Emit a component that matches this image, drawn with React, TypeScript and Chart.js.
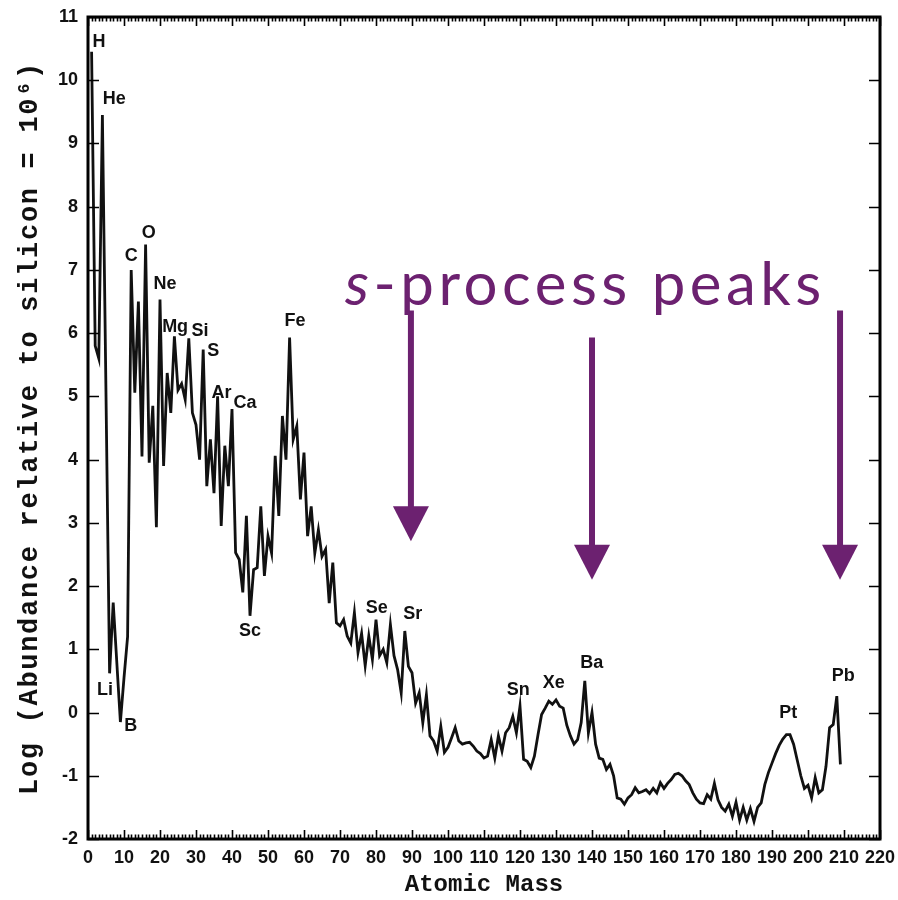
import React, { useEffect, useRef } from 'react';
import { Chart, registerables } from 'chart.js';

Chart.register(...registerables);

// ---- data ----
const massNumber = [
  1, 2, 3, 4, 6, 7, 9, 10, 11,
  12, 13, 14, 15, 16, 17, 18, 19, 20, 21,
  22, 23, 24, 25, 26, 27, 28, 29, 30, 31,
  32, 33, 34, 35, 36, 37, 38, 39, 40, 41,
  42, 43, 44, 45, 46, 47, 48, 49, 50, 51,
  52, 53, 54, 55, 56, 57, 58, 59, 60, 61,
  62, 63, 64, 65, 66, 67, 68, 69, 70, 71,
  72, 73, 74, 75, 76, 77, 78, 79, 80, 81,
  82, 83, 84, 85, 86, 87, 88, 89, 90, 91,
  92, 93, 94, 95, 96, 97, 98, 99, 100, 101,
  102, 103, 104, 105, 106, 107, 108, 109, 110, 111,
  112, 113, 114, 115, 116, 117, 118, 119, 120, 121,
  122, 123, 124, 125, 126, 127, 128, 129, 130, 131,
  132, 133, 134, 135, 136, 137, 138, 139, 140, 141,
  142, 143, 144, 145, 146, 147, 148, 149, 150, 151,
  152, 153, 154, 155, 156, 157, 158, 159, 160, 161,
  162, 163, 164, 165, 166, 167, 168, 169, 170, 171,
  172, 173, 174, 175, 176, 177, 178, 179, 180, 181,
  182, 183, 184, 185, 186, 187, 188, 189, 190, 191,
  192, 193, 194, 195, 196, 197, 198, 199, 200, 201,
  202, 203, 204, 205, 206, 207, 208, 209,
];

const logAbundance = [
  10.45, 5.8, 5.6, 9.45, 0.62, 1.74, -0.15, 0.55, 1.2,
  7.0, 5.06, 6.5, 4.05, 7.4, 3.95, 4.85, 2.93, 6.53, 3.9,
  5.37, 4.74, 5.95, 5.1, 5.2, 4.95, 5.92, 4.74, 4.55, 4.0,
  5.74, 3.58, 4.32, 3.47, 5.0, 2.95, 4.22, 3.58, 4.8, 2.53,
  2.42, 1.9, 3.11, 1.53, 2.26, 2.29, 3.26, 2.16, 2.79, 2.52,
  4.06, 3.11, 4.69, 4.0, 5.93, 4.32, 4.53, 3.37, 4.11, 2.79,
  3.26, 2.52, 2.89, 2.47, 2.58, 1.73, 2.37, 1.42, 1.37, 1.47,
  1.21, 1.1, 1.58, 0.95, 1.25, 0.74, 1.21, 0.84, 1.47, 0.9,
  1.0, 0.79, 1.39, 0.9, 0.68, 0.31, 1.29, 0.73, 0.63, 0.15,
  0.31, -0.16, 0.28, -0.37, -0.45, -0.61, -0.22, -0.63, -0.55, -0.4,
  -0.24, -0.45, -0.5, -0.48, -0.47, -0.53, -0.61, -0.65, -0.72, -0.69,
  -0.43, -0.72, -0.37, -0.61, -0.32, -0.24, -0.06, -0.32, 0.1, -0.74,
  -0.77, -0.87, -0.69, -0.35, -0.03, 0.07, 0.18, 0.13, 0.2, 0.1,
  0.07, -0.2, -0.37, -0.5, -0.43, -0.16, 0.5, -0.32, 0.0, -0.5,
  -0.72, -0.74, -0.9, -0.82, -1.0, -1.35, -1.37, -1.45, -1.35, -1.3,
  -1.19, -1.27, -1.25, -1.22, -1.28, -1.2, -1.27, -1.11, -1.2, -1.12,
  -1.06, -0.98, -0.96, -1.0, -1.08, -1.14, -1.27, -1.37, -1.43, -1.44,
  -1.3, -1.37, -1.12, -1.38, -1.5, -1.56, -1.45, -1.64, -1.42, -1.7,
  -1.5, -1.7, -1.52, -1.72, -1.5, -1.43, -1.14, -0.95, -0.8, -0.65,
  -0.52, -0.42, -0.35, -0.35, -0.5, -0.75, -1.0, -1.2, -1.15, -1.35,
  -1.03, -1.27, -1.22, -0.85, -0.24, -0.19, 0.26, -0.82,
];

const elementNames = ['H', 'He', 'Li', 'B', 'C', 'O', 'Ne', 'Mg', 'Si', 'S', 'Ar', 'Ca', 'Sc', 'Fe', 'Se', 'Sr', 'Sn', 'Xe', 'Ba', 'Pt', 'Pb'];
const elementMass = [3.05, 7.3, 4.72, 11.9, 12.0, 16.9, 21.4, 24.2, 31.1, 34.8, 37.1, 43.6, 45.0, 57.5, 80.2, 90.2, 119.5, 129.4, 139.9, 194.5, 209.8];
const elementLog = [10.6, 9.71, 0.36, -0.22, 7.22, 7.58, 6.77, 6.1, 6.03, 5.72, 5.06, 4.9, 1.29, 6.19, 1.66, 1.55, 0.36, 0.47, 0.79, 0.0, 0.57];

const arrowMass = [89.7, 140.0, 208.9];
const arrowTopLog = [6.36, 5.93, 6.36];
const arrowTipLog = [2.71, 2.1, 2.1];

const calloutItalic = 's';
const calloutRest = '-process peaks';
const calloutMass = 71.4;
const calloutLog = 6.44;

const xTitle = 'Atomic Mass';
const yTitle = 'Log (Abundance relative to silicon = 10⁶)';

const X_MIN = 0;
const X_MAX = 220;
const X_STEP = 10;
const Y_MIN = -2;
const Y_MAX = 11;
const Y_STEP = 1;

const PURPLE = '#6c2170';
const TICK_FONT = 'bold 18px "Liberation Sans", Arial, sans-serif';

const decorPlugin = {
  id: 'decor',
  afterDraw(chart: any) {
    const { ctx, chartArea: a, scales } = chart;
    const xs = scales.x;
    const ys = scales.y;
    ctx.save();

    // ticks (inward, all four sides)
    ctx.strokeStyle = '#000';
    ctx.lineWidth = 1.6;
    ctx.beginPath();
    for (let v = X_MIN; v <= X_MAX; v += 1) {
      const px = Math.round(xs.getPixelForValue(v)) + 0.5;
      const len = v % X_STEP === 0 ? 9 : 4.5;
      ctx.moveTo(px, a.bottom);
      ctx.lineTo(px, a.bottom - len);
      ctx.moveTo(px, a.top);
      ctx.lineTo(px, a.top + len);
    }
    for (let v = Y_MIN; v <= Y_MAX; v += Y_STEP) {
      const py = Math.round(ys.getPixelForValue(v)) + 0.5;
      ctx.moveTo(a.left, py);
      ctx.lineTo(a.left + 11, py);
      ctx.moveTo(a.right, py);
      ctx.lineTo(a.right - 11, py);
    }
    ctx.stroke();

    // frame
    ctx.lineWidth = 3;
    ctx.strokeRect(a.left, a.top, a.right - a.left, a.bottom - a.top);

    // tick labels from the scales' own ticks
    ctx.fillStyle = '#111';
    ctx.font = TICK_FONT;
    ctx.textAlign = 'center';
    ctx.textBaseline = 'middle';
    for (const t of xs.ticks) {
      ctx.fillText(String(t.label), xs.getPixelForValue(t.value), a.bottom + 19);
    }
    ctx.textAlign = 'right';
    for (const t of ys.ticks) {
      ctx.fillText(String(t.label), a.left - 10, ys.getPixelForValue(t.value));
    }

    // element labels
    ctx.font = 'bold 18px "Liberation Sans", Arial, sans-serif';
    ctx.textAlign = 'center';
    ctx.textBaseline = 'middle';
    for (let i = 0; i < elementNames.length; i++) {
      ctx.fillText(elementNames[i], xs.getPixelForValue(elementMass[i]), ys.getPixelForValue(elementLog[i]));
    }

    // axis titles
    ctx.font = 'bold 24px "Liberation Mono", monospace';
    ctx.fillText(xTitle, (a.left + a.right) / 2, 885);
    ctx.save();
    ctx.translate(30, (a.top + a.bottom) / 2);
    ctx.rotate(-Math.PI / 2);
    ctx.font = 'bold 27px "Liberation Mono", monospace';
    if ('letterSpacing' in ctx) (ctx as any).letterSpacing = '1.7px';
    ctx.fillText(yTitle, 0, 0);
    ctx.restore();

    // arrows
    ctx.fillStyle = PURPLE;
    ctx.strokeStyle = PURPLE;
    for (let i = 0; i < arrowMass.length; i++) {
      const px = xs.getPixelForValue(arrowMass[i]);
      const top = ys.getPixelForValue(arrowTopLog[i]);
      const tip = ys.getPixelForValue(arrowTipLog[i]);
      const headLen = 35;
      const halfW = 18;
      ctx.lineWidth = 6;
      ctx.beginPath();
      ctx.moveTo(px, top);
      ctx.lineTo(px, tip - headLen + 2);
      ctx.stroke();
      ctx.beginPath();
      ctx.moveTo(px - halfW, tip - headLen);
      ctx.lineTo(px + halfW, tip - headLen);
      ctx.lineTo(px, tip);
      ctx.closePath();
      ctx.fill();
    }

    // callout text
    const tx = xs.getPixelForValue(calloutMass);
    const ty = ys.getPixelForValue(calloutLog);
    ctx.textAlign = 'left';
    ctx.textBaseline = 'alphabetic';
    if ('letterSpacing' in ctx) (ctx as any).letterSpacing = '4.5px';
    ctx.font = 'italic 60px Lato, "Open Sans", sans-serif';
    ctx.fillText(calloutItalic, tx, ty);
    const w = ctx.measureText(calloutItalic).width;
    ctx.font = '60px Lato, "Open Sans", sans-serif';
    ctx.fillText(calloutRest, tx + w, ty);
    if ('letterSpacing' in ctx) (ctx as any).letterSpacing = '0px';

    ctx.restore();
  },
};

export default function App() {
  const canvasRef = useRef<HTMLCanvasElement | null>(null);

  useEffect(() => {
    const canvas = canvasRef.current;
    if (!canvas) return;
    const points = massNumber.map((m, i) => ({ x: m, y: logAbundance[i] }));
    const chart = new Chart(canvas, {
      type: 'line',
      data: {
        datasets: [
          {
            data: points,
            borderColor: '#111',
            borderWidth: 2.8,
            pointRadius: 0,
            tension: 0,
            fill: false,
          },
        ],
      },
      options: {
        responsive: false,
        animation: false,
        devicePixelRatio: 1,
        layout: { padding: { left: 0, top: 17, right: 18, bottom: 0 } },
        plugins: { legend: { display: false }, tooltip: { enabled: false } },
        scales: {
          x: {
            type: 'linear',
            min: X_MIN,
            max: X_MAX,
            grid: { display: false },
            border: { display: false },
            ticks: { stepSize: X_STEP, autoSkip: false, maxRotation: 0, display: false },
            afterFit: (s: any) => {
              s.height = 61;
            },
          },
          y: {
            type: 'linear',
            min: Y_MIN,
            max: Y_MAX,
            grid: { display: false },
            border: { display: false },
            ticks: { stepSize: Y_STEP, autoSkip: false, display: false },
            afterFit: (s: any) => {
              s.width = 88;
            },
          },
        },
      },
      plugins: [decorPlugin],
    });
    return () => chart.destroy();
  }, []);

  return (
    <div style={{ position: 'absolute', left: 0, top: 0, width: 898, height: 900, background: '#fff' }}>
      <canvas ref={canvasRef} width={898} height={900} />
    </div>
  );
}
